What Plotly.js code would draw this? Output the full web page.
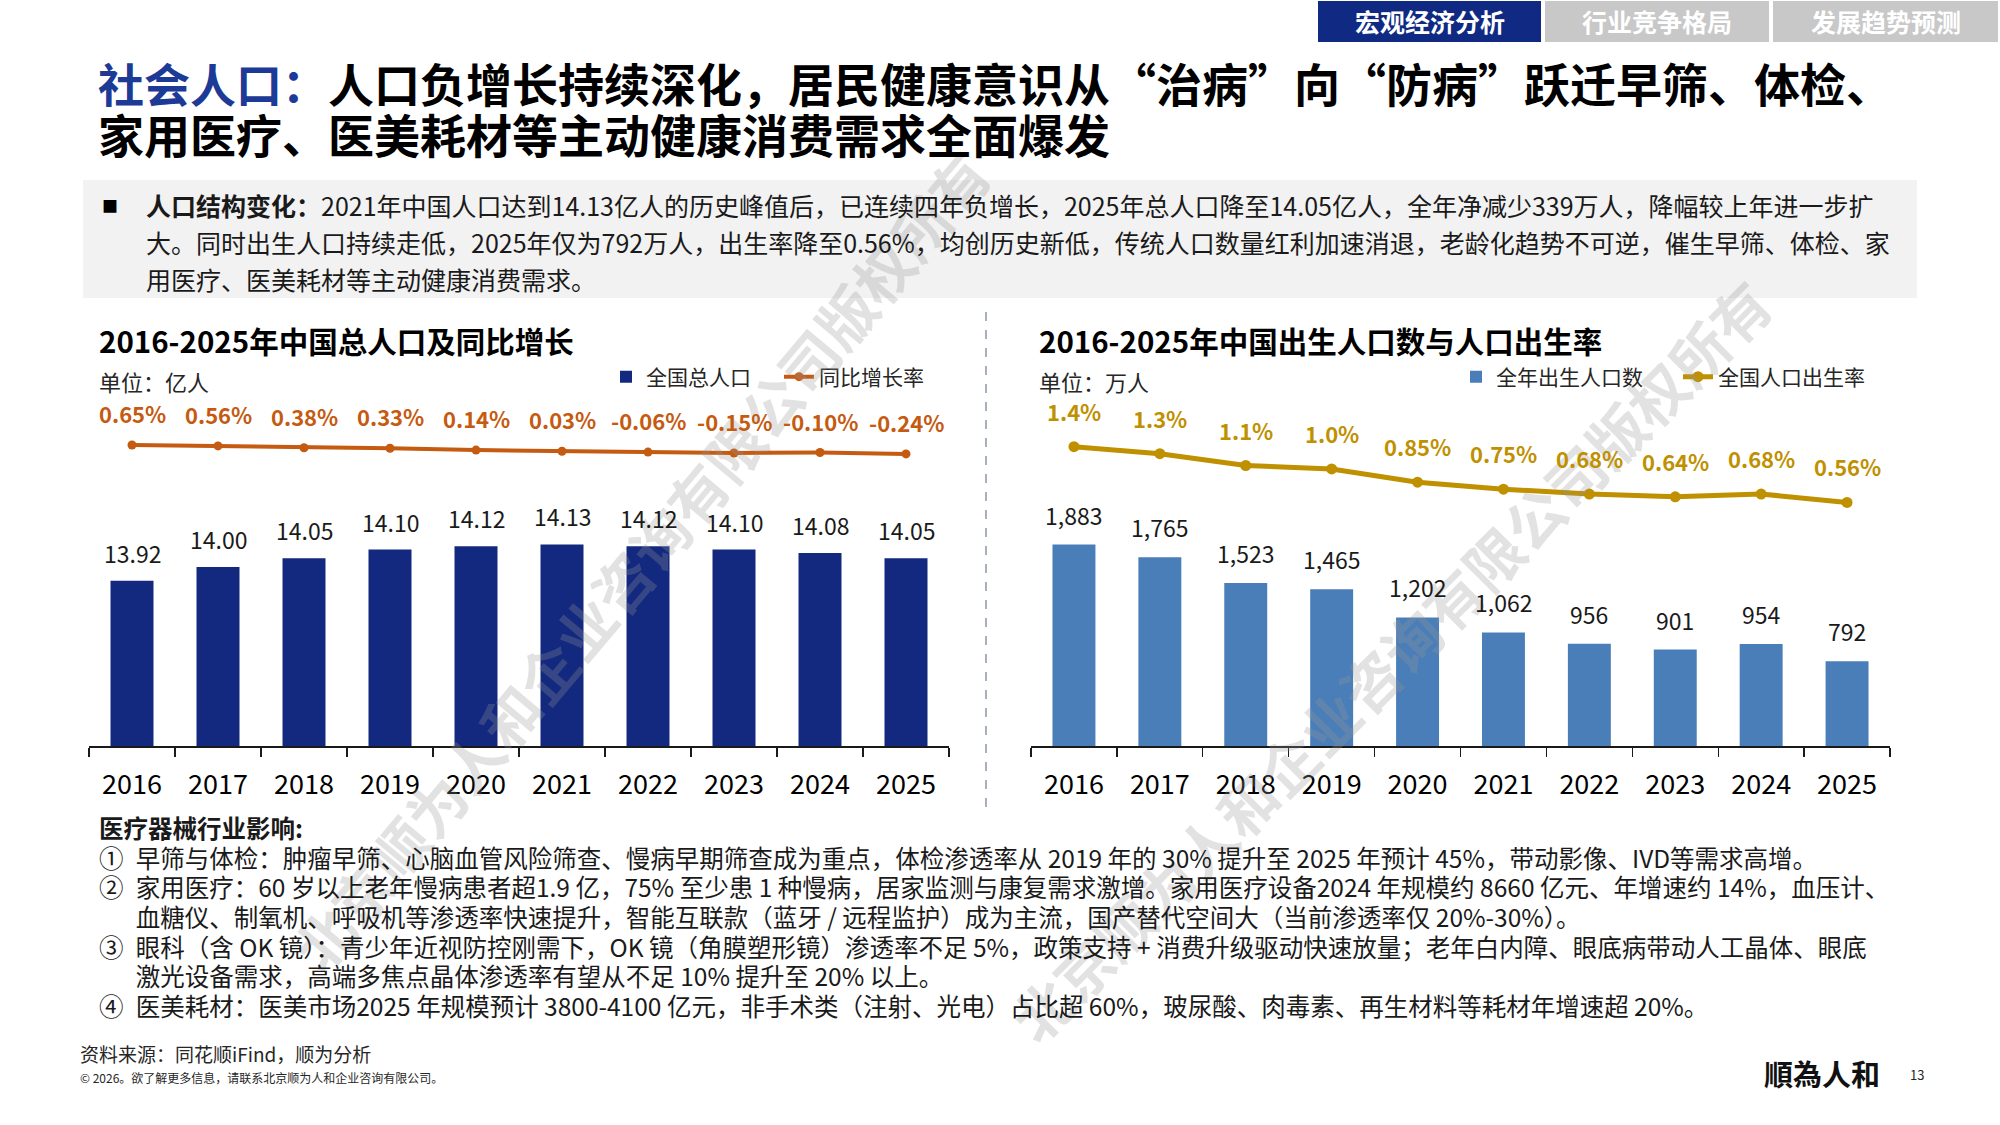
<!DOCTYPE html>
<html>
<head>
<meta charset="utf-8">
<script src="https://cdn.plot.ly/plotly-3.0.1.min.js"></script>
<style>
  html, body { margin: 0; padding: 0; background: #ffffff; }
  #chart { width: 2000px; height: 1125px; }
</style>
</head>
<body>
<div id="chart"></div>
<script>
// ---------------- DATA ----------------
const years = ['2016', '2017', '2018', '2019', '2020', '2021', '2022', '2023', '2024', '2025'];
const totalPopulation = [13.92, 14.00, 14.05, 14.10, 14.12, 14.13, 14.12, 14.10, 14.08, 14.05]; // 亿人
const populationGrowth = [0.65, 0.56, 0.38, 0.33, 0.14, 0.03, -0.06, -0.15, -0.10, -0.24]; // %
const births = [1883, 1765, 1523, 1465, 1202, 1062, 956, 901, 954, 792]; // 万人
const birthRate = [1.36, 1.26, 1.09, 1.04, 0.85, 0.75, 0.68, 0.64, 0.68, 0.56]; // %
const birthRateLabels = ['1.4%', '1.3%', '1.1%', '1.0%', '0.85%', '0.75%', '0.68%', '0.64%', '0.68%', '0.56%'];

const seriesNames = ['全国总人口', '同比增长率', '全年出生人口数', '全国人口出生率'];
const chartTitles = ['2016-2025年中国总人口及同比增长', '2016-2025年中国出生人口数与人口出生率'];
const unitLabels = ['单位：亿人', '单位：万人'];
const tabLabels = ['宏观经济分析', '行业竞争格局', '发展趋势预测'];

const titleLead = '社会人口：';
const titleLine1 = '人口负增长持续深化，居民健康意识从“治病”向“防病”跃迁早筛、体检、';
const titleLine2 = '家用医疗、医美耗材等主动健康消费需求全面爆发';

const summaryLead = '人口结构变化：';
const summaryLines = [
  '2021年中国人口达到14.13亿人的历史峰值后，已连续四年负增长，2025年总人口降至14.05亿人，全年净减少339万人，降幅较上年进一步扩',
  '大。同时出生人口持续走低，2025年仅为792万人，出生率降至0.56%，均创历史新低，传统人口数量红利加速消退，老龄化趋势不可逆，催生早筛、体检、家',
  '用医疗、医美耗材等主动健康消费需求。'
];

const impactTitle = '医疗器械行业影响:';
const impactMarkers = ['①', '②', '', '③', '', '④'];
const impactLines = [
  '早筛与体检：肿瘤早筛、心脑血管风险筛查、慢病早期筛查成为重点，体检渗透率从 2019 年的 30% 提升至 2025 年预计 45%，带动影像、IVD等需求高增。',
  '家用医疗：60 岁以上老年慢病患者超1.9 亿，75% 至少患 1 种慢病，居家监测与康复需求激增。家用医疗设备2024 年规模约 8660 亿元、年增速约 14%，血压计、',
  '血糖仪、制氧机、呼吸机等渗透率快速提升，智能互联款（蓝牙 / 远程监护）成为主流，国产替代空间大（当前渗透率仅 20%-30%）。',
  '眼科（含 OK 镜）：青少年近视防控刚需下，OK 镜（角膜塑形镜）渗透率不足 5%，政策支持 + 消费升级驱动快速放量；老年白内障、眼底病带动人工晶体、眼底',
  '激光设备需求，高端多焦点晶体渗透率有望从不足 10% 提升至 20% 以上。',
  '医美耗材：医美市场2025 年规模预计 3800-4100 亿元，非手术类（注射、光电）占比超 60%，玻尿酸、肉毒素、再生材料等耗材年增速超 20%。'
];

const sourceText = '资料来源：同花顺iFind，顺为分析';
const copyrightText = '© 2026。欲了解更多信息，请联系北京顺为人和企业咨询有限公司。';
const logoText = '順為人和';
const pageNumber = '13';
const watermarkText = '北京顺为人和企业咨询有限公司版权所有';

// ---------------- STYLE ----------------
const W = 2000, H = 1125;
const px = x => x / W;
const py = y => 1 - y / H;
const FONT = '"Noto Sans CJK SC", "Noto Sans", sans-serif';
const NAVY = '#13287f';
const STEEL = '#4a7eb9';
const ORANGE = '#c55a11';
const GOLD = '#bf9000';
const TITLE_BLUE = '#1c3a96';
const LINE_SPACING = 1.3; // Plotly's line spacing (em of the annotation's base font)

// ---------------- TRACES ----------------
const traces = [
  {
    type: 'bar', x: years, y: totalPopulation, name: seriesNames[0],
    xaxis: 'x', yaxis: 'y', width: 0.5, marker: { color: NAVY },
    legend: 'legend', hoverinfo: 'x+y'
  },
  {
    type: 'scatter', mode: 'lines+markers', x: years, y: populationGrowth, name: seriesNames[1],
    xaxis: 'x', yaxis: 'y2', line: { color: ORANGE, width: 4 },
    marker: { color: ORANGE, size: 9 }, legend: 'legend', hoverinfo: 'x+y'
  },
  {
    type: 'bar', x: years, y: births, name: seriesNames[2],
    xaxis: 'x2', yaxis: 'y3', width: 0.5, marker: { color: STEEL },
    legend: 'legend2', hoverinfo: 'x+y'
  },
  {
    type: 'scatter', mode: 'lines+markers', x: years, y: birthRate, name: seriesNames[3],
    xaxis: 'x2', yaxis: 'y4', line: { color: GOLD, width: 5 },
    marker: { color: GOLD, size: 11 }, legend: 'legend2', hoverinfo: 'x+y'
  }
];

// ---------------- ANNOTATIONS ----------------
const ann = [];
function txt(text, x, y, size, opts) {
  opts = opts || {};
  ann.push(Object.assign({
    text: text, xref: 'paper', yref: 'paper', x: px(x), y: py(y),
    xanchor: 'left', yanchor: 'middle', showarrow: false,
    font: { family: FONT, size: size, color: '#000000' }
  }, opts));
}
// multi-line block: lines drawn at glyph size `size`, with line pitch `pitch` px
function block(lines, x, yFirst, pitch, size, color, weight) {
  const yMid = yFirst + pitch * (lines.length - 1) / 2;
  const body = lines.map(l => '<span style="font-size:' + size + 'px">' + l + '</span>').join('<br>');
  ann.push({
    text: body, xref: 'paper', yref: 'paper', x: px(x), y: py(yMid),
    xanchor: 'left', yanchor: 'middle', align: 'left', showarrow: false,
    font: { family: FONT, size: pitch / LINE_SPACING, color: color, weight: weight || 'normal' }
  });
}

// watermarks
ann.push({
  text: watermarkText, xref: 'paper', yref: 'paper', x: px(640), y: py(560),
  xanchor: 'center', yanchor: 'middle', showarrow: false, textangle: -50,
  font: { family: FONT, size: 58, color: 'rgba(150,150,150,0.28)', weight: 'bold' }
});
ann.push({
  text: watermarkText, xref: 'paper', yref: 'paper', x: px(1390), y: py(660),
  xanchor: 'center', yanchor: 'middle', showarrow: false, textangle: -45,
  font: { family: FONT, size: 58, color: 'rgba(150,150,150,0.28)', weight: 'bold' }
});

// tabs
const tabCenters = [1430, 1657, 1886];
tabLabels.forEach((t, i) => txt(t, tabCenters[i], 21, 25, {
  xanchor: 'center', font: { family: FONT, size: 25, color: '#ffffff', weight: 'bold' }
}));

// main title (two lines, one text block)
block(['<span style="color:' + TITLE_BLUE + '">' + titleLead + '</span>' + titleLine1, titleLine2],
      96, 82, 51, 46, '#000000', 'bold');

// summary box text
txt('■', 100, 205, 16, { font: { family: FONT, size: 16, color: '#000000' } });
block(['<b>' + summaryLead + '</b>' + summaryLines[0], summaryLines[1], summaryLines[2]],
      144, 205, 37, 25, '#1a1a1a');

// chart titles & units
txt(chartTitles[0], 97, 340, 29.5, { font: { family: FONT, size: 29.5, color: '#000000', weight: 'bold' } });
txt(chartTitles[1], 1037, 340, 29.5, { font: { family: FONT, size: 29.5, color: '#000000', weight: 'bold' } });
txt(unitLabels[0], 97, 381, 22, { font: { family: FONT, size: 22, color: '#262626' } });
txt(unitLabels[1], 1037, 381, 22, { font: { family: FONT, size: 22, color: '#262626' } });

// value labels (x given as category serial number)
years.forEach((yr, i) => {
  ann.push({
    text: totalPopulation[i].toFixed(2), xref: 'x', yref: 'y', x: i, y: totalPopulation[i],
    yshift: 28, xanchor: 'center', yanchor: 'middle', showarrow: false,
    font: { family: FONT, size: 23, color: '#1a1a1a' }
  });
  ann.push({
    text: births[i].toLocaleString('en-US'), xref: 'x2', yref: 'y3', x: i, y: births[i],
    yshift: 30, xanchor: 'center', yanchor: 'middle', showarrow: false,
    font: { family: FONT, size: 23, color: '#1a1a1a' }
  });
  ann.push({
    text: populationGrowth[i].toFixed(2) + '%', xref: 'x', yref: 'y2', x: i, y: populationGrowth[i],
    yshift: 32, xanchor: 'center', yanchor: 'middle', showarrow: false,
    font: { family: FONT, size: 22, color: ORANGE, weight: 'bold' }
  });
  ann.push({
    text: birthRateLabels[i], xref: 'x2', yref: 'y4', x: i, y: birthRate[i],
    yshift: 36, xanchor: 'center', yanchor: 'middle', showarrow: false,
    font: { family: FONT, size: 22, color: GOLD, weight: 'bold' }
  });
});

// impact section: one block; markers are full-width, continuation lines indented to match
const INDENT = '\u3000\u2002';
const impactBlock = ['<b>' + impactTitle + '</b>'].concat(
  impactLines.map((l, i) => (impactMarkers[i] ? impactMarkers[i] + '\u2002' : INDENT) + l)
);
block(impactBlock, 97, 827, 29.67, 24.5, '#1a1a1a');

// footer
txt(sourceText, 78, 1053, 19, { font: { family: FONT, size: 19, color: '#262626' } });
txt(copyrightText, 78, 1077, 12, { font: { family: FONT, size: 12, color: '#262626' } });
txt(logoText, 1762, 1073, 29, { font: { family: '"Noto Sans CJK TC", sans-serif', size: 29, color: '#111111', weight: 'bold' } });
txt(pageNumber, 1908, 1074, 13, { font: { family: FONT, size: 13, color: '#262626' } });

// ---------------- SHAPES ----------------
const shapes = [
  { type: 'rect', xref: 'paper', yref: 'paper', x0: px(1318), x1: px(1541), y0: py(42), y1: py(1), fillcolor: '#102a83', line: { width: 0 }, layer: 'below' },
  { type: 'rect', xref: 'paper', yref: 'paper', x0: px(1545), x1: px(1769), y0: py(42), y1: py(1), fillcolor: '#c8c8c8', line: { width: 0 }, layer: 'below' },
  { type: 'rect', xref: 'paper', yref: 'paper', x0: px(1773), x1: px(1998), y0: py(42), y1: py(1), fillcolor: '#c8c8c8', line: { width: 0 }, layer: 'below' },
  { type: 'rect', xref: 'paper', yref: 'paper', x0: px(83), x1: px(1917), y0: py(298), y1: py(180), fillcolor: '#f2f2f2', line: { width: 0 }, layer: 'below' },
  { type: 'line', xref: 'paper', yref: 'paper', x0: px(986), x1: px(986), y0: py(312), y1: py(811), line: { color: '#8a96aa', width: 1.5, dash: 'dash' } }
];

// ---------------- LAYOUT ----------------
const xAxisCommon = {
  type: 'category', categoryorder: 'array', categoryarray: years,
  autorange: false, range: [-0.5, years.length - 0.5],
  showgrid: false, zeroline: false,
  showline: true, linecolor: '#1a1a1a', linewidth: 1.5,
  ticks: 'outside', tickson: 'boundaries', ticklen: 9, tickcolor: '#1a1a1a', tickwidth: 1.3,
  ticklabelstandoff: 14,
  tickfont: { family: FONT, size: 27, color: '#000000' },
  tickangle: 0,
  fixedrange: true
};
const hiddenY = { visible: false, showgrid: false, zeroline: false, fixedrange: true, autorange: false };
const legendCommon = {
  orientation: 'h', xanchor: 'left', yanchor: 'middle', y: py(377),
  font: { family: FONT, size: 21, color: '#262626' }, bgcolor: 'rgba(0,0,0,0)',
  itemwidth: 30, traceorder: 'normal', entrywidthmode: 'pixels'
};

const layout = {
  width: W, height: H,
  margin: { l: 0, r: 0, t: 0, b: 0 },
  paper_bgcolor: '#ffffff', plot_bgcolor: 'rgba(0,0,0,0)',
  font: { family: FONT, color: '#000000' },
  showlegend: true,
  xaxis: Object.assign({}, xAxisCommon, { domain: [px(89), px(949)], anchor: 'y' }),
  yaxis: Object.assign({}, hiddenY, { domain: [py(746), py(420)], range: [12.965, 14.849], anchor: 'x' }),
  yaxis2: Object.assign({}, hiddenY, { domain: [py(470), py(430)], range: [-1.85, 2.15], anchor: 'x' }),
  xaxis2: Object.assign({}, xAxisCommon, { domain: [px(1031), px(1890)], anchor: 'y3' }),
  yaxis3: Object.assign({}, hiddenY, { domain: [py(746), py(420)], range: [0, 3047], anchor: 'x2' }),
  yaxis4: Object.assign({}, hiddenY, { domain: [py(520), py(430)], range: [0.307, 1.60], anchor: 'x2' }),
  legend: Object.assign({}, legendCommon, { x: px(606), entrywidth: 128 }),
  legend2: Object.assign({}, legendCommon, { x: px(1456), entrywidth: 177 }),
  annotations: ann,
  shapes: shapes
};

Plotly.newPlot('chart', traces, layout, { staticPlot: true, displayModeBar: false });
</script>
</body>
</html>
